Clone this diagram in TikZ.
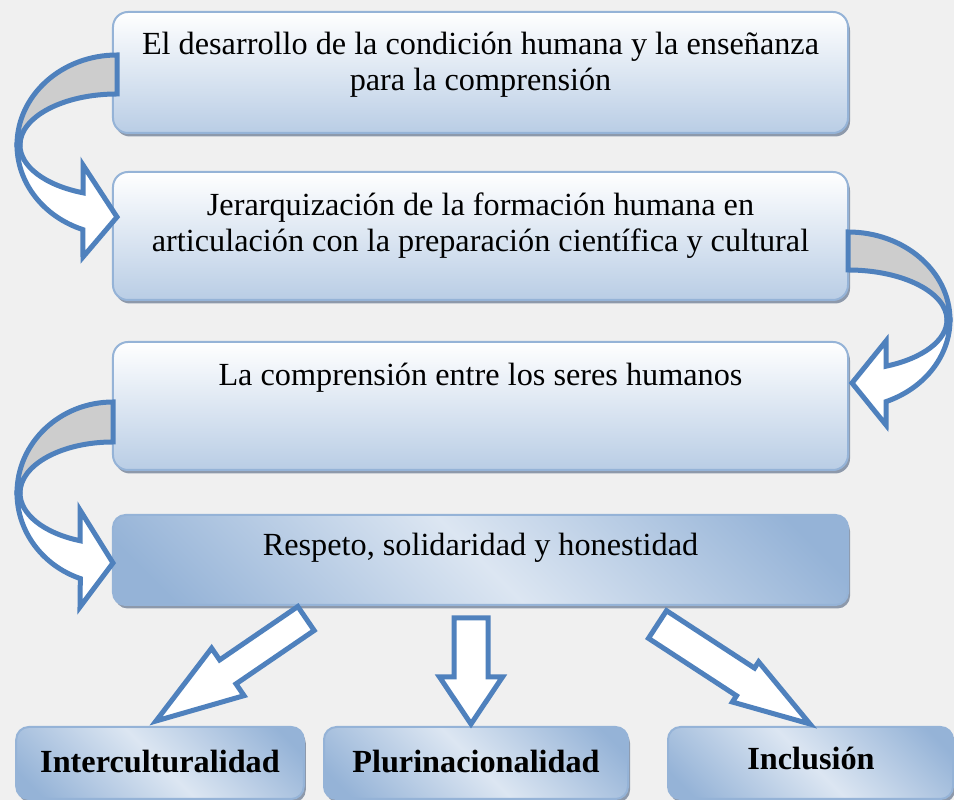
\documentclass[tikz,border=0pt]{standalone}
\usepackage{fontspec}
\setmainfont{Liberation Serif}
\usetikzlibrary{calc}
\usetikzlibrary{shadows}

\definecolor{bggray}{HTML}{F0F0F0}
\definecolor{arrblue}{HTML}{4F81BD}
\definecolor{bandgray}{HTML}{CDCDCD}
\definecolor{boxline}{HTML}{95B3D7}
\definecolor{boxlow}{HTML}{B9CDE5}
\definecolor{boxdark}{HTML}{95B3D7}
\definecolor{boxlight}{HTML}{DCE6F2}
\definecolor{shadowgray}{HTML}{8D99AB}

\pgfdeclarehorizontalshading{diagband}{100bp}{color(0bp)=(boxdark); color(20bp)=(boxdark); color(50bp)=(boxlight); color(80bp)=(boxdark); color(100bp)=(boxdark)}

\tikzset{
 flowbox/.style={rounded corners=6pt, draw=boxline, line width=0.8pt, top color=white, bottom color=boxlow,
   minimum width=294pt, drop shadow={shadow xshift=0.8pt, shadow yshift=-1.4pt, fill=shadowgray, opacity=1}},
 valuebox/.style={rounded corners=5pt, draw=boxline, line width=0.8pt, shading=diagband, shading angle=45,
   drop shadow={shadow xshift=0.8pt, shadow yshift=-1.4pt, fill=shadowgray, opacity=1}},
 txt/.style={align=center, inner sep=0pt, font=\fontsize{12.9}{14.4}\selectfont},
 bandback/.style={fill=bandgray, draw=arrblue, line width=2pt},
 bandfront/.style={fill=white, draw=arrblue, line width=2pt, line join=miter},
 fatarrow/.style={fill=white, draw=arrblue, line width=2pt, line join=miter}
}

\newcommand{\blockarrow}[5]{%
 \coordinate (hb) at ($(#2)!#5!(#1)$);
 \filldraw[fatarrow] ($(#1)!#3!90:(#2)$) -- ($(hb)!#3!90:(#2)$) -- ($(hb)!#4!90:(#2)$) -- (#2)
   -- ($(hb)!#4!-90:(#2)$) -- ($(hb)!#3!-90:(#2)$) -- ($(#1)!#3!-90:(#2)$) -- cycle;
}

\begin{document}
\begin{tikzpicture}[x=0.4pt, y=0.4pt]
\useasboundingbox (0,0) rectangle (954,800);
\fill[bggray] (0,0) rectangle (954,800);

\node[flowbox, minimum height=48.4pt] (desarrollo) at (480.5,727.5) {};
\node[flowbox, minimum height=51.2pt] (jerarq) at (480.5,564) {};
\node[flowbox, minimum height=51.2pt] (comprension) at (480.5,394) {};
\node[valuebox, minimum width=294pt, minimum height=36pt] (respeto) at (480.5,240) {};
\node[valuebox, minimum width=115pt, minimum height=28.8pt] (inter) at (160,37) {};
\node[valuebox, minimum width=121.6pt, minimum height=28.8pt] (pluri) at (476,37) {};
\node[valuebox, minimum width=114pt, minimum height=28.8pt] (inclus) at (810.5,37) {};

\node[txt] (t1) at (480.5,735) {El desarrollo de la condición humana y la enseñanza\\para la comprensión};
\node[txt] (t2) at (480.5,574) {Jerarquización de la formación humana en\\articulación con la preparación científica y cultural};
\node[txt] (t3) at (480.5,422) {La comprensión entre los seres humanos};
\node[txt] (t4) at (480.5,252) {Respeto, solidaridad y honestidad};
\node[txt, font=\fontsize{12.9}{14.4}\selectfont\bfseries] (l1) at (160,38) {Interculturalidad};
\node[txt, font=\fontsize{12.9}{14.4}\selectfont\bfseries] (l2) at (476,38) {Plurinacionalidad};
\node[txt, font=\fontsize{12.9}{14.4}\selectfont\bfseries] (l3) at (811,42) {Inclusión};

\filldraw[bandback] (117,745) arc[start angle=90, end angle=180, x radius=40pt, y radius=36pt]
  -- (20,655) arc[start angle=180, end angle=90, x radius=38.8pt, y radius=20.4pt] -- cycle;
\filldraw[bandfront] (17,655) arc[start angle=180, end angle=250, x radius=40pt, y radius=36pt]
  -- (83,543) -- (117,583) -- (83,635) -- (83,607.2)
  arc[start angle=249.5, end angle=180, x radius=38.8pt, y radius=20.4pt] -- cycle;

\filldraw[bandback] (848,568) arc[start angle=90, end angle=0, x radius=40.8pt, y radius=35.2pt]
  -- (947,480) arc[start angle=0, end angle=90, x radius=39.6pt, y radius=20pt] -- cycle;
\filldraw[bandfront] (950,480) arc[start angle=0, end angle=-68.1, x radius=40.8pt, y radius=35.2pt]
  -- (886,375) -- (852,417) -- (886,459) -- (886,433.8)
  arc[start angle=-67.4, end angle=0, x radius=39.6pt, y radius=20pt] -- cycle;

\filldraw[bandback] (113,398) arc[start angle=90, end angle=180, x radius=38.4pt, y radius=36.4pt]
  -- (20,307) arc[start angle=180, end angle=90, x radius=37.2pt, y radius=20.4pt] -- cycle;
\filldraw[bandfront] (17,307) arc[start angle=180, end angle=250.1, x radius=38.4pt, y radius=36.4pt]
  -- (80,193) -- (113,237) -- (80,290) -- (80,259.3)
  arc[start angle=249.2, end angle=180, x radius=37.2pt, y radius=20.4pt] -- cycle;

\coordinate (a1) at ($(respeto.south)+(-174.5,-12.5)$);
\coordinate (e1) at ($(inter.north)+(-4,5)$);
\coordinate (a2) at ($(respeto.south)+(-9.5,-12)$);
\coordinate (e2) at ($(pluri.north)+(-5,2)$);
\coordinate (a3) at ($(respeto.south)+(177,-18.5)$);
\coordinate (e3) at ($(inclus.north)+(-0.5,2)$);
\blockarrow{a1}{e1}{5.8pt}{11.5pt}{34.8pt}
\blockarrow{a2}{e2}{6.8pt}{12.6pt}{18.8pt}
\blockarrow{a3}{e3}{6.6pt}{9.6pt}{30.8pt}
\end{tikzpicture}
\end{document}
